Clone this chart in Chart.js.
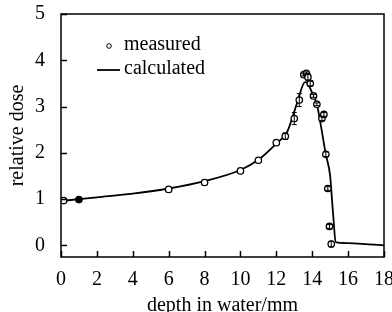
<!DOCTYPE html>
<html lang="en">
  <head>
    <meta charset="UTF-8" />
    <title>relative dose</title>
    <script src="https://cdn.jsdelivr.net/npm/chart.js"></script>
    <style>
      body { margin: 0; background: #fff; }
      #wrap { width: 392px; height: 312px; }
    </style>
  </head>
  <body>
    <div id="wrap"><canvas id="chart" width="392" height="312"></canvas></div>

    <script>
      // measured points (depth mm, dose, error)
      const measX = [0.15, 1, 6, 8, 10, 11, 12, 12.5, 13, 13.28, 13.53, 13.67, 13.76, 13.89, 14.07, 14.26, 14.54, 14.65, 14.76, 14.87, 14.96, 15.06];
      const measY = [0.97, 0.99, 1.21, 1.36, 1.61, 1.84, 2.22, 2.36, 2.74, 3.14, 3.69, 3.72, 3.64, 3.5, 3.23, 3.05, 2.74, 2.83, 1.97, 1.23, 0.41, 0.03];
      const measErr = [0, 0, 0, 0, 0, 0, 0, 0.07, 0.13, 0.14, 0.03, 0.03, 0.08, 0.05, 0.03, 0.03, 0.04, 0.04, 0.05, 0.04, 0.04, 0.06];

      // calculated curve
      const calcX = [0, 1, 2, 4, 6, 8, 10, 11, 12, 12.6, 13.15, 13.6, 13.75, 13.9, 14.1, 14.26, 14.5, 14.75, 15.0, 15.1, 15.2, 15.3, 16, 17, 18];
      const calcY = [0.96, 1.0, 1.04, 1.12, 1.23, 1.39, 1.63, 1.85, 2.2, 2.45, 3.07, 3.53, 3.5, 3.38, 3.2, 3.05, 2.55, 1.98, 1.5, 1.0, 0.5, 0.07, 0.05, 0.03, 0.0];

      const xTicks = [0, 2, 4, 6, 8, 10, 12, 14, 16, 18];
      const yTicks = [0, 1, 2, 3, 4, 5];

      const serif = "'Liberation Serif', 'Times New Roman', serif";

      // box, inward ticks, error bars, legend
      const frame = {
        id: "frame",
        afterDatasetsDraw(chart) {
          const { ctx, chartArea: a, scales } = chart;
          const x = scales.x, y = scales.y;
          ctx.save();
          ctx.strokeStyle = "#000";

          // error bars
          ctx.lineWidth = 1;
          measX.forEach((v, i) => {
            if (!measErr[i]) return;
            const px = x.getPixelForValue(v);
            const lo = y.getPixelForValue(measY[i] - measErr[i]);
            const hi = y.getPixelForValue(measY[i] + measErr[i]);
            ctx.beginPath();
            ctx.moveTo(px, lo); ctx.lineTo(px, hi);
            ctx.moveTo(px - 2.5, lo); ctx.lineTo(px + 2.5, lo);
            ctx.moveTo(px - 2.5, hi); ctx.lineTo(px + 2.5, hi);
            ctx.stroke();
          });

          ctx.lineWidth = 1.5;
          ctx.strokeRect(a.left, a.top, a.right - a.left, a.bottom - a.top);
          ctx.beginPath();
          xTicks.forEach((v) => {
            const px = Math.round(x.getPixelForValue(v)) + 0.5;
            ctx.moveTo(px, a.bottom);
            ctx.lineTo(px, a.bottom - 6);
          });
          yTicks.forEach((v) => {
            const py = Math.round(y.getPixelForValue(v)) + 0.5;
            ctx.moveTo(a.left, py);
            ctx.lineTo(a.left + 6, py);
          });
          ctx.stroke();

          // legend
          ctx.fillStyle = "#000";
          ctx.font = "20px " + serif;
          ctx.textBaseline = "middle";
          ctx.lineWidth = 1;
          ctx.beginPath();
          ctx.arc(109, 46, 2.3, 0, Math.PI * 2);
          ctx.stroke();
          ctx.fillText(chart.data.datasets[0].label, 124, 45);
          ctx.lineWidth = 1.8;
          ctx.beginPath();
          ctx.moveTo(97, 70);
          ctx.lineTo(120, 70);
          ctx.stroke();
          ctx.fillText(chart.data.datasets[1].label, 124, 69);
          ctx.restore();
        },
      };

      const ctx = document.getElementById("chart").getContext("2d");
      new Chart(ctx, {
        type: "scatter",
        data: {
          datasets: [
            {
              label: "measured",
              data: measX.map((v, i) => ({ x: v, y: measY[i] })),
              pointRadius: 3.2,
              pointBorderWidth: 1.3,
              borderColor: "#000",
              pointBackgroundColor: measX.map((v) => (v === 1 ? "#000" : "#fff")),
              showLine: false,
              order: 0,
            },
            {
              label: "calculated",
              data: calcX.map((v, i) => ({ x: v, y: calcY[i] })),
              showLine: true,
              borderColor: "#000",
              borderWidth: 1.8,
              pointRadius: 0,
              cubicInterpolationMode: "monotone",
              order: 1,
            },
          ],
        },
        options: {
          responsive: false,
          animation: false,
          layout: { padding: { top: 14, right: 8, left: 0, bottom: 0 } },
          plugins: { legend: { display: false }, tooltip: { enabled: false } },
          scales: {
            x: {
              type: "linear",
              min: 0,
              max: 18,
              afterBuildTicks: (s) => { s.ticks = xTicks.map((v) => ({ value: v })); },
              afterFit: (s) => { s.height = 55; s.paddingLeft = 0; s.paddingRight = 0; },
              grid: { display: false, drawTicks: false },
              border: { display: false },
              ticks: { color: "#000", padding: 11, font: { family: serif, size: 20 } },
              title: {
                display: true,
                text: "depth in water/mm",
                color: "#000",
                padding: 0,
                font: { family: serif, size: 20, lineHeight: 0.6 },
              },
            },
            y: {
              type: "linear",
              min: -0.25,
              max: 5,
              afterBuildTicks: (s) => { s.ticks = yTicks.map((v) => ({ value: v })); },
              afterFit: (s) => { s.width = 61; s.paddingTop = 0; s.paddingBottom = 0; },
              grid: { display: false, drawTicks: false },
              border: { display: false },
              ticks: { color: "#000", padding: 16, font: { family: serif, size: 20 } },
              title: {
                display: true,
                text: "relative dose",
                color: "#000",
                padding: { top: 6, bottom: 0 },
                font: { family: serif, size: 20, lineHeight: 1.2 },
              },
            },
          },
        },
        plugins: [frame],
      });
    </script>
  </body>
</html>
